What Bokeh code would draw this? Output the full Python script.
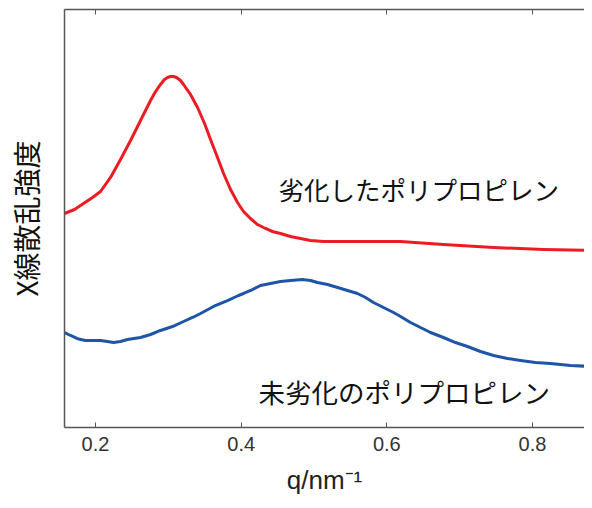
from bokeh.plotting import figure
from bokeh.models import Label, LinearAxis, Range1d, FixedTicker
from bokeh.embed import file_html
from bokeh.resources import INLINE

# Degraded polypropylene (red)
q_deg = [0.1574, 0.1712, 0.1835, 0.1959, 0.2069, 0.2206, 0.2343, 0.2481, 0.2618, 0.2755,
         0.2824, 0.2892, 0.2947, 0.2989, 0.3030, 0.3071, 0.3112, 0.3167, 0.3208, 0.3304,
         0.3401, 0.3497, 0.3579, 0.3675, 0.3758, 0.3854, 0.3950, 0.4032, 0.4128, 0.4224,
         0.4334, 0.4430, 0.4540, 0.4677, 0.4815, 0.4952, 0.5131, 0.5364, 0.5680, 0.6188,
         0.6778, 0.7465, 0.8151, 0.8824]
i_deg = [0.5120, 0.5215, 0.5359, 0.5502, 0.5646, 0.5981, 0.6411, 0.6866, 0.7344, 0.7823,
         0.8038, 0.8206, 0.8325, 0.8373, 0.8397, 0.8397, 0.8373, 0.8301, 0.8206, 0.7967,
         0.7656, 0.7273, 0.6890, 0.6459, 0.6077, 0.5694, 0.5383, 0.5167, 0.5000, 0.4856,
         0.4761, 0.4689, 0.4641, 0.4569, 0.4522, 0.4474, 0.4450, 0.4450, 0.4450, 0.4450,
         0.4378, 0.4306, 0.4258, 0.4234]

# Undegraded polypropylene (blue)
q_new = [0.1574, 0.1657, 0.1767, 0.1863, 0.2069, 0.2165, 0.2247, 0.2343, 0.2439, 0.2618,
         0.2755, 0.2892, 0.3057, 0.3208, 0.3332, 0.3442, 0.3620, 0.3812, 0.3963, 0.4032,
         0.4156, 0.4266, 0.4403, 0.4540, 0.4677, 0.4842, 0.4952, 0.5048, 0.5186, 0.5323,
         0.5460, 0.5597, 0.5707, 0.5817, 0.5954, 0.6092, 0.6188, 0.6325, 0.6462, 0.6600,
         0.6778, 0.6943, 0.7108, 0.7286, 0.7465, 0.7657, 0.7836, 0.8041, 0.8247, 0.8522,
         0.8824]
i_new = [0.2273, 0.2201, 0.2117, 0.2081, 0.2081, 0.2057, 0.2033, 0.2057, 0.2105, 0.2153,
         0.2225, 0.2321, 0.2416, 0.2536, 0.2632, 0.2727, 0.2895, 0.3038, 0.3158, 0.3206,
         0.3301, 0.3397, 0.3445, 0.3493, 0.3517, 0.3541, 0.3517, 0.3469, 0.3421, 0.3349,
         0.3278, 0.3206, 0.3110, 0.2990, 0.2871, 0.2751, 0.2656, 0.2512, 0.2392, 0.2273,
         0.2153, 0.2033, 0.1938, 0.1818, 0.1722, 0.1651, 0.1603, 0.1555, 0.1531, 0.1483,
         0.1459]

x_ticks = [0.2, 0.4, 0.6, 0.8]

p = figure(width=584, height=500, output_backend="svg", toolbar_location=None,
           x_range=Range1d(0.1574, 0.8714), y_range=Range1d(0, 1),
           min_border_left=64, min_border_right=0, min_border_top=9, min_border_bottom=73,
           x_axis_label="q/nm\u207b\u00b9", y_axis_label="X線散乱強度")
p.outline_line_color = None
p.grid.visible = False
p.background_fill_color = "white"
p.border_fill_color = "white"

axcol = "#555555"
xa = p.xaxis[0]
xa.ticker = FixedTicker(ticks=x_ticks)
xa.major_tick_in = 5
xa.major_tick_out = 0
xa.minor_tick_line_color = None
xa.axis_line_color = axcol
xa.axis_line_width = 1.5
xa.major_tick_line_color = axcol
xa.major_label_text_font = "Liberation Sans"
xa.major_label_text_font_size = "20px"
xa.major_label_text_color = "#333333"
xa.major_label_standoff = 9
xa.axis_label_text_font = "Liberation Sans"
xa.axis_label_text_font_style = "normal"
xa.axis_label_text_font_size = "26px"
xa.axis_label_text_color = "#222222"
xa.axis_label_standoff = 11

ya = p.yaxis[0]
ya.ticker = FixedTicker(ticks=[])
ya.major_tick_in = 0
ya.major_tick_out = 0
ya.minor_tick_line_color = None
ya.major_tick_line_color = None
ya.major_label_text_color = None
ya.major_label_text_font_size = "0px"
ya.major_label_standoff = 0
ya.axis_line_color = axcol
ya.axis_line_width = 1.5
ya.axis_label_text_font = "Noto Sans CJK JP"
ya.axis_label_text_font_style = "normal"
ya.axis_label_text_font_size = "28px"
ya.axis_label_text_color = "#111111"
ya.axis_label_standoff = 19

top = LinearAxis(ticker=FixedTicker(ticks=x_ticks))
top.major_tick_in = 5
top.major_tick_out = 0
top.minor_tick_line_color = None
top.major_label_text_color = None
top.major_label_text_font_size = "0px"
top.major_label_standoff = 0
top.axis_line_color = axcol
top.axis_line_width = 1.5
top.major_tick_line_color = axcol
p.add_layout(top, "above")

p.line(q_deg, i_deg, line_color="#ec1c24", line_width=3, line_join="round")
p.line(q_new, i_new, line_color="#1f55a6", line_width=3, line_join="round")

p.add_layout(Label(x=0.4513, y=0.5718, text="劣化したポリプロピレン",
                   text_font="Noto Sans CJK JP", text_font_size="25.5px",
                   text_color="#111111", text_baseline="middle", text_align="left"))
p.add_layout(Label(x=0.4238, y=0.0861, text="未劣化のポリプロピレン",
                   text_font="Noto Sans CJK JP", text_font_size="26.5px",
                   text_color="#111111", text_baseline="middle", text_align="left"))

open("out.html", "w").write(file_html(p, INLINE))
